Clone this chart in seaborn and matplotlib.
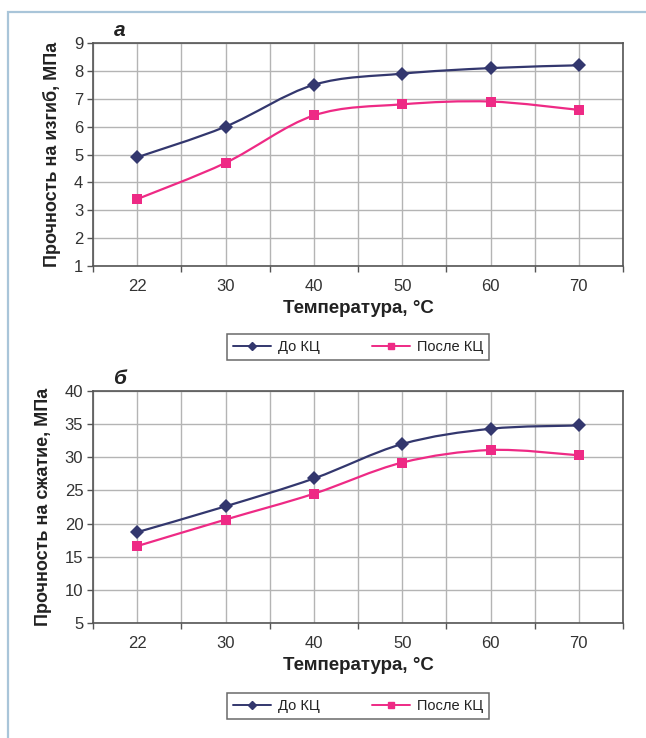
import numpy as np
import pandas as pd
import matplotlib
matplotlib.use("Agg")
import matplotlib.pyplot as plt
import seaborn as sns
from matplotlib.path import Path
from matplotlib.patches import PathPatch, Rectangle
from matplotlib.lines import Line2D

# ---- data ----
temps = ["22", "30", "40", "50", "60", "70"]
bend_before = [4.9, 6.0, 7.5, 7.9, 8.1, 8.2]
bend_after = [3.4, 4.7, 6.4, 6.8, 6.9, 6.6]
comp_before = [18.7, 22.6, 26.8, 32.0, 34.3, 34.8]
comp_after = [16.6, 20.6, 24.5, 29.2, 31.1, 30.3]
series_names = ["До КЦ", "После КЦ"]
xlabel = "Температура, °С"
ylabels = ["Прочность на изгиб, МПа", "Прочность на сжатие, МПа"]
panel_labels = ["а", "б"]

NAVY = "#33376e"
PINK = "#ee2a85"

sns.set_theme(style="white")
FAM = ["Liberation Sans Narrow", "Liberation Sans", "DejaVu Sans"]
plt.rcParams["font.family"] = FAM

fig = plt.figure(figsize=(6.46, 7.38), dpi=100)

# light blue frame (left and top edges)
fig.patches.append(Rectangle((8 / 646, -0.05), 1.2, 1 - 12 / 738 + 0.05,
                             transform=fig.transFigure, fill=False,
                             edgecolor="#a9c5d9", lw=1.6, zorder=0))


def smooth_path(xs, ys):
    xs = np.asarray(xs, float)
    ys = np.asarray(ys, float)
    pts = np.column_stack([xs, ys])
    n = len(pts)
    verts = [pts[0]]
    codes = [Path.MOVETO]
    for i in range(n - 1):
        p0 = pts[i - 1] if i > 0 else pts[i]
        p1 = pts[i]
        p2 = pts[i + 1]
        p3 = pts[i + 2] if i + 2 < n else pts[i + 1]
        c1 = p1 + (p2 - p0) / 6.0
        c2 = p2 - (p3 - p1) / 6.0
        verts += [c1, c2, p2]
        codes += [Path.CURVE4] * 3
    return Path(verts, codes)


def panel(rect, before, after, ylim, yticks, ylab, plab):
    ax = fig.add_axes(rect)
    df = pd.DataFrame({
        "temp": temps * 2,
        "val": list(before) + list(after),
        "series": [series_names[0]] * len(temps) + [series_names[1]] * len(temps),
    })
    pos = np.arange(len(temps))
    for vals, col in [(before, NAVY), (after, PINK)]:
        ax.add_patch(PathPatch(smooth_path(pos, vals), facecolor="none",
                               edgecolor=col, lw=1.6, zorder=3))
    sns.lineplot(data=df, x="temp", y="val", hue="series", style="series",
                 palette=[NAVY, PINK], markers=["D", "s"], dashes=False,
                 markersize=7, markeredgewidth=0, linewidth=0,
                 legend=False, ax=ax, zorder=4)
    ax.set_xlim(-0.5, len(temps) - 0.5)
    ax.set_ylim(*ylim)
    ax.set_yticks(yticks)
    ax.set_xticks(pos)
    ax.set_xticklabels(temps)
    ax.set_xticks(np.arange(-0.5, len(temps), 1.0), minor=True)
    ax.grid(True, which="both", color="#b4b4b4", lw=1.0)
    ax.set_axisbelow(True)
    for s in ax.spines.values():
        s.set_color("#555555")
        s.set_linewidth(1.2)
    ax.tick_params(axis="x", which="major", length=0, pad=9,
                   labelsize=12, labelcolor="#333333")
    ax.tick_params(axis="x", which="minor", length=4, width=1, color="#555555",
                   bottom=True)
    ax.tick_params(axis="y", length=4, width=1, color="#555555", left=True,
                   labelsize=12, labelcolor="#333333", pad=3)
    ax.set_xlabel(xlabel, fontsize=13.5, fontweight="bold", color="#222222",
                  labelpad=5)
    ax.set_ylabel(ylab, fontsize=13, fontweight="bold", color="#222222",
                  labelpad=9)
    ax.text(0.05, 1.015, plab, transform=ax.transAxes, fontsize=15,
            fontweight="bold", fontstyle="italic", color="#222222",
            ha="center", va="bottom", family=["Liberation Sans", "DejaVu Sans"])
    return ax


ax1 = panel([93 / 646, 1 - 266 / 738, 530 / 646, 223 / 738],
            bend_before, bend_after, (1, 9), range(1, 10), ylabels[0], panel_labels[0])
ax2 = panel([93 / 646, 1 - 623 / 738, 530 / 646, 232 / 738],
            comp_before, comp_after, (5, 40), range(5, 41, 5), ylabels[1], panel_labels[1])

handles = [Line2D([], [], color=NAVY, marker="D", markersize=4, lw=1.4),
           Line2D([], [], color=PINK, marker="s", markersize=4, lw=1.4)]
for yc in [1 - 347 / 738, 1 - 706 / 738]:
    leg = fig.legend(handles, series_names, loc="center",
                     bbox_to_anchor=(358 / 646, yc), ncol=2, frameon=True,
                     fancybox=False, fontsize=10.5, handlelength=2.6,
                     columnspacing=3.6, handletextpad=0.5, borderpad=0.4,
                     borderaxespad=0)
    leg.get_frame().set_edgecolor("#444444")
    leg.get_frame().set_linewidth(1.1)
    for t in leg.get_texts():
        t.set_color("#222222")

fig.savefig("out.png", dpi=100, facecolor="white")
